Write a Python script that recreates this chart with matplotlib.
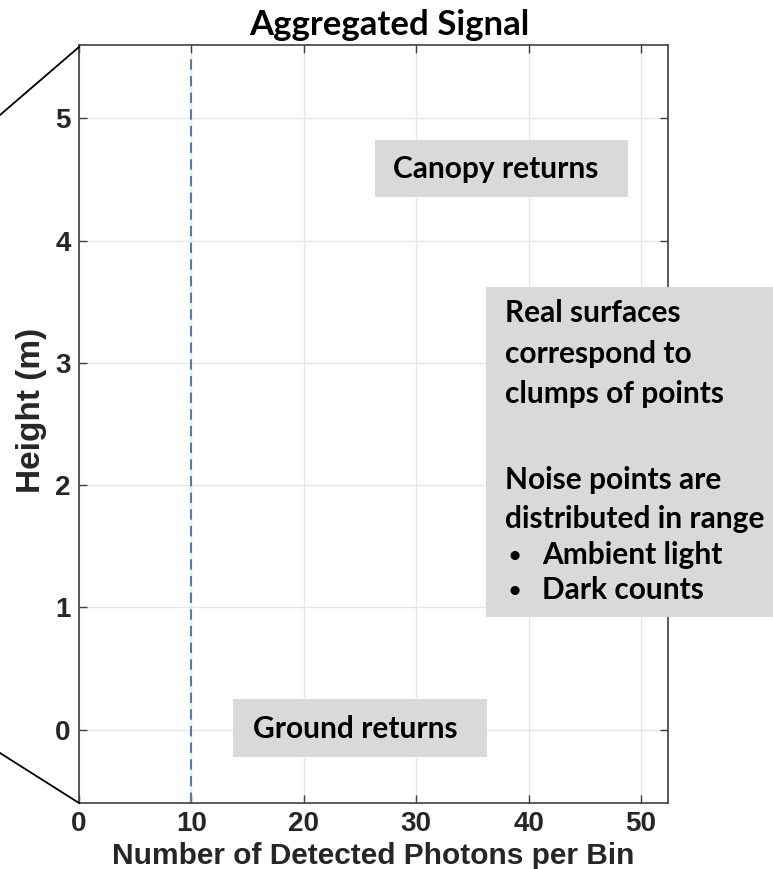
import matplotlib.pyplot as plt
from matplotlib.patches import Rectangle
from matplotlib.lines import Line2D

# axis setup
x_lim = [0, 52.4]
y_lim = [-0.6, 5.6]
x_ticks = [0, 10, 20, 30, 40, 50]
y_ticks = [0, 1, 2, 3, 4, 5]
threshold = 10  # dashed vertical line

title = "Aggregated Signal"
x_label = "Number of Detected Photons per Bin"
y_label = "Height (m)"

W, H = 773, 869
fig = plt.figure(figsize=(W / 100, H / 100), dpi=100)

def fx(px):
    return px / W

def fy(py):
    return 1 - py / H

ax = fig.add_axes([fx(79), fy(803), fx(668) - fx(79), fy(45) - fy(803)])
ax.set_xlim(x_lim)
ax.set_ylim(y_lim)
ax.set_xticks(x_ticks)
ax.set_yticks(y_ticks)
ax.grid(True, color="#e6e6e6", linewidth=1.0)
ax.set_axisbelow(True)

tick_font = dict(family="Liberation Sans", weight="bold", size=20)
ax.set_xticklabels([str(t) for t in x_ticks], fontdict=tick_font, color="#262626")
ax.set_yticklabels([str(t) for t in y_ticks], fontdict=tick_font, color="#262626")
ax.tick_params(direction="in", length=6, width=1.0, color="#404040",
               top=True, right=True, pad=6)
for s in ax.spines.values():
    s.set_color("#404040")
    s.set_linewidth(1.2)

ax.axvline(threshold, ymin=0, ymax=0.99, color="#4a7ebb", linewidth=1.5,
           linestyle=(0, (5, 3)))

fig.text(fx(373), fy(864), x_label, family="Liberation Sans", weight="bold",
         size=21.5, color="#262626", ha="center", va="baseline")
fig.text(fx(32), fy(410), y_label, family="Liberation Sans", weight="bold",
         size=24, color="#262626", rotation=90, ha="center", va="center")

fig.text(fx(389), fy(25), title, family="Lato", weight="bold", size=25,
         ha="center", va="center", color="black")

# zoom callout lines on the left
fig.add_artist(Line2D([fx(0), fx(79)], [fy(115), fy(47)], color="black", linewidth=1.3))
fig.add_artist(Line2D([fx(0), fx(79)], [fy(753), fy(803)], color="black", linewidth=1.3))

# annotation boxes
box_color = "#d9d9d9"
def box(x0, y0, x1, y1):
    fig.add_artist(Rectangle((fx(x0), fy(y1)), fx(x1) - fx(x0), fy(y0) - fy(y1),
                             transform=fig.transFigure, facecolor=box_color,
                             edgecolor="none", zorder=5))

note_font = dict(family="Lato", weight="bold", size=21.5, color="black", zorder=6)

box(375, 140, 628, 197)
fig.text(fx(393), fy(169), "Canopy returns", ha="left", va="center", **note_font)

box(233, 699, 487, 757)
fig.text(fx(253), fy(729), "Ground returns", ha="left", va="center", **note_font)

box(486, 287, 773, 617)
lines = [(313, "Real surfaces"), (354, "correspond to"), (394, "clumps of points"),
         (480, "Noise points are"), (519, "distributed in range")]
for yy, t in lines:
    fig.text(fx(505), fy(yy), t, ha="left", va="center", **note_font)
for yy, t in [(555, "Ambient light"), (590, "Dark counts")]:
    fig.text(fx(509), fy(yy + 1), "\u2022", ha="left", va="center",
             family="Lato", weight="bold", size=15, color="black", zorder=6)
    fig.text(fx(542), fy(yy), t, ha="left", va="center", **note_font)

fig.savefig("out.png", dpi=100)
